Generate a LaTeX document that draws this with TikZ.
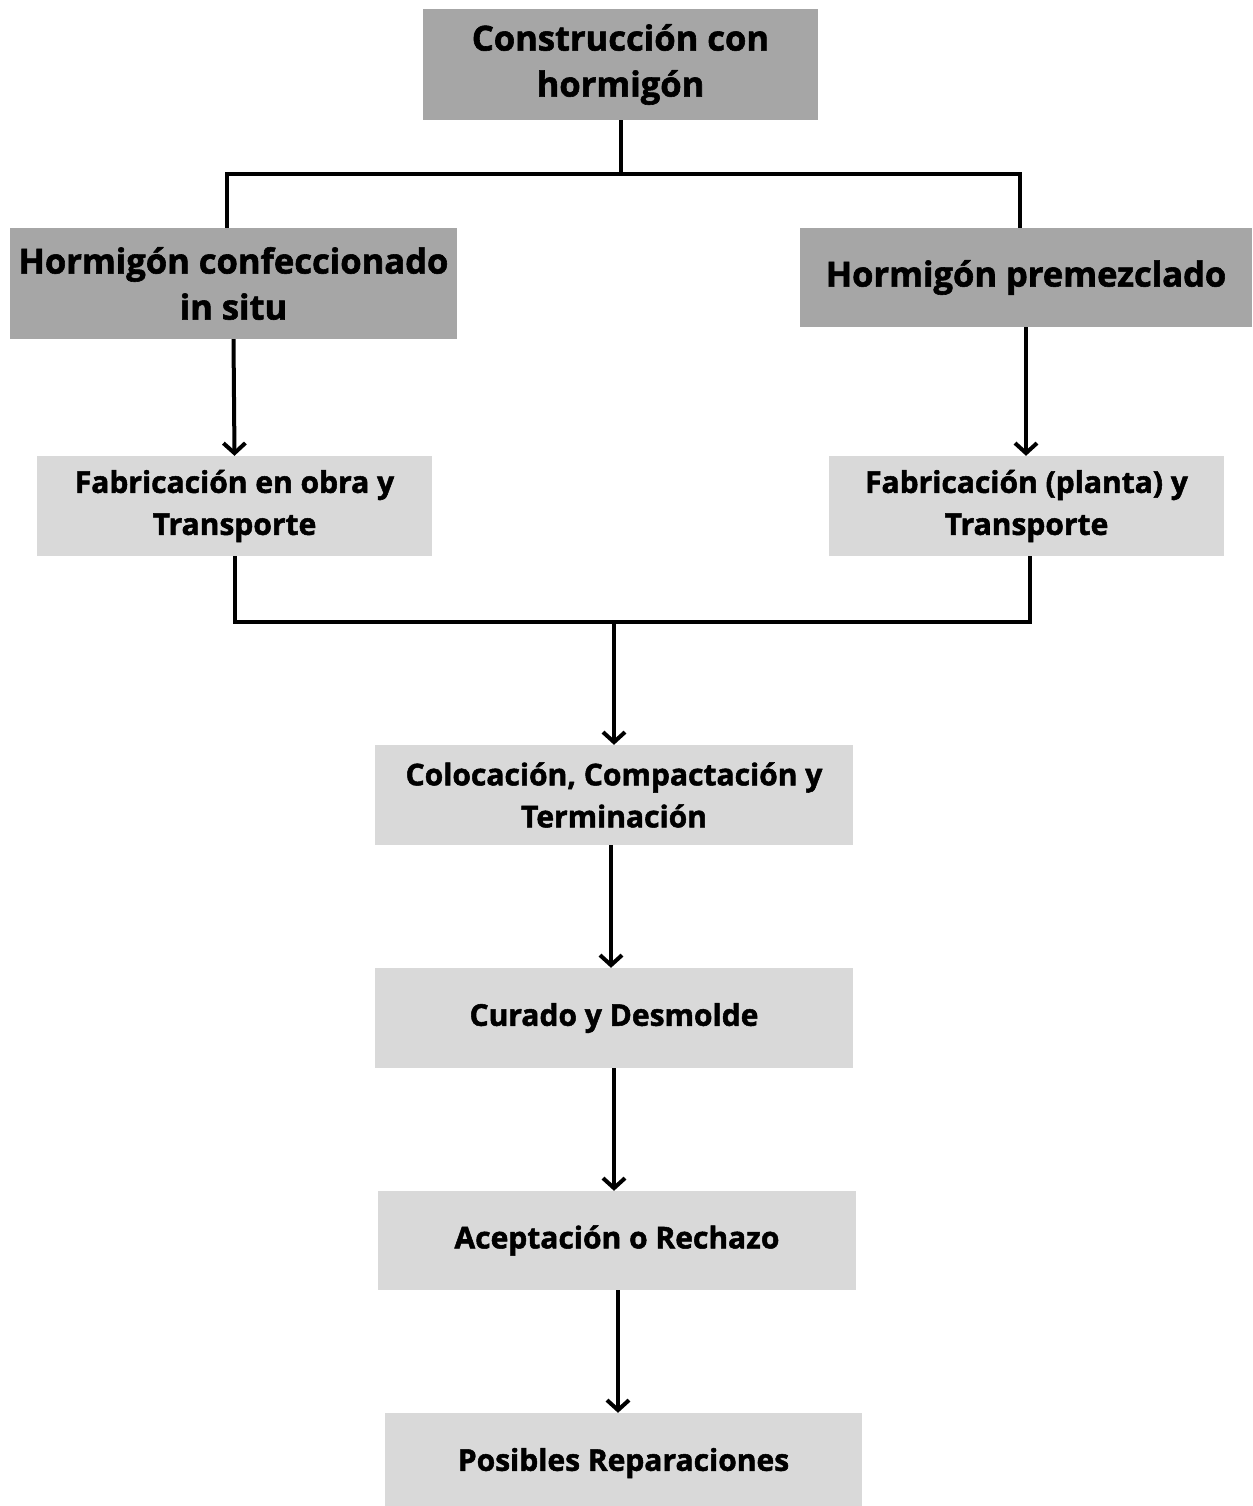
\documentclass[tikz,border=0pt]{standalone}
\usepackage{fontspec}
\setmainfont{Open Sans}[BoldFeatures={FakeBold=1.7}]
\usetikzlibrary{arrows.meta,calc}
\definecolor{darkbox}{HTML}{A6A6A6}
\definecolor{lightbox}{HTML}{D9D9D9}
\tikzset{
  bigbox/.style={rectangle, fill=darkbox, draw=none, inner sep=0pt, align=center,
    font=\fontsize{34.5}{46}\selectfont\bfseries},
  smallbox/.style={rectangle, fill=lightbox, draw=none, inner sep=0pt, align=center,
    font=\fontsize{30}{42}\selectfont\bfseries},
  conn/.style={line width=4pt, black},
  arr/.style={conn, -{Straight Barb[length=10pt,width=22pt,line width=4pt]}}
}
\begin{document}
\begin{tikzpicture}[x=1pt,y=-1pt]
\useasboundingbox (0,0) rectangle (1252,1506);
\fill[white] (0,0) rectangle (1252,1506);
\node[bigbox, minimum width=395pt, minimum height=111pt] (top) at (620.5,64.5) {Construcción con\\hormigón};
\node[bigbox, minimum width=447pt, minimum height=111pt] (left) at (233.5,283.5) {Hormigón confeccionado\\in situ};
\node[bigbox, minimum width=452pt, minimum height=99pt] (right) at (1026,277.5) {Hormigón premezclado};
\node[smallbox, minimum width=395pt, minimum height=100pt] (fabl) at (234.5,506) {Fabricación en obra y\\Transporte};
\node[smallbox, minimum width=395pt, minimum height=100pt] (fabr) at (1026.5,506) {Fabricación (planta) y\\Transporte};
\node[smallbox, minimum width=478pt, minimum height=100pt] (col) at (614,795) {Colocación, Compactación y\\Terminación};
\node[smallbox, minimum width=478pt, minimum height=100pt] (cur) at (614,1018) {Curado y Desmolde};
\node[smallbox, minimum width=478pt, minimum height=99pt] (ace) at (617,1240.5) {Aceptación o Rechazo};
\node[smallbox, minimum width=477pt, minimum height=100pt] (pos) at (623.5,1463) {Posibles Reparaciones};
% top split
\draw[conn] (top.south) -- ++(0,54);
\draw[conn] ([xshift=-6.5pt]left.north) -- ++(0,-54) -| ([xshift=-6pt]right.north);
% down arrows
\draw[arr] (left.south) -- (fabl.north);
\draw[arr] (right.south) -- (right.south |- fabr.north);
% merge
\draw[conn] (fabl.south) -- ++(0,66) -| ([xshift=3.5pt]fabr.south);
\draw[arr] (col.north |- 0,623) -- (col.north);
\draw[arr] ([xshift=-3pt]col.south) -- ([xshift=-3pt]cur.north);
\draw[arr] (cur.south) -- (cur.south |- ace.north);
\draw[arr] ([xshift=1pt]ace.south) -- ([xshift=1pt]ace.south |- pos.north);
\end{tikzpicture}
\end{document}
